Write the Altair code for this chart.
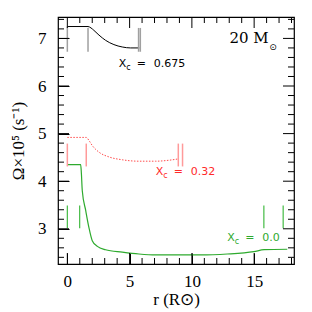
import altair as alt
import pandas as pd

# ---- data ----
black_r = [0.0, 1.66, 1.9, 2.13, 2.54, 3.07, 3.74, 4.41, 5.08, 5.78]
black_v = [7.25, 7.25, 7.22, 7.17, 7.07, 6.96, 6.87, 6.82, 6.80, 6.80]

red_r = [0.0, 1.52, 1.75, 2.0, 2.54, 3.34, 4.41, 5.75, 7.09, 8.15, 8.96]
red_v = [4.92, 4.92, 4.85, 4.75, 4.61, 4.51, 4.45, 4.42, 4.42, 4.44, 4.47]

green_r = [0.0, 1.07, 1.12, 1.2, 1.47, 1.73, 2.0, 2.41, 3.07, 4.41, 5.75, 7.09,
           10.7, 12.84, 14.98, 15.8, 17.66]
green_v = [4.35, 4.35, 4.2, 3.80, 3.39, 3.03, 2.75, 2.63, 2.56, 2.51, 2.47, 2.45,
           2.45, 2.47, 2.52, 2.56, 2.57]

black_seg_r = [0.0, 1.66, 5.72, 5.86]
black_seg_v1 = [7.25, 7.22, 7.22, 7.22]
black_seg_v2 = [6.72, 6.72, 6.72, 6.72]

red_seg_r = [0.0, 1.52, 8.91, 9.25]
red_seg_v1 = [4.79, 4.79, 4.79, 4.79]
red_seg_v2 = [4.31, 4.31, 4.31, 4.31]

green_seg_r = [0.0, 0.99, 15.78, 17.33]
green_seg_v1 = [3.49, 3.49, 3.49, 3.49]
green_seg_v2 = [3.01, 3.01, 3.01, 3.01]

label_num = ["0.675", "0.32", "0.0"]
label_r = [4.12, 7.09, 12.84]
label_v = [6.46, 4.19, 2.80]

mass_text = ["20  M"]
mass_r = [16.16]
mass_v = [7.0]
sun_r = [16.52]
sun_v = [6.82]

x_major = [0, 5, 10, 15]
x_minor = [i for i in range(0, 19) if i % 5 != 0]
y_major = [3, 4, 5, 6, 7]
y_minor = [round(2.4 + 0.2 * i, 1) for i in range(26) if (2 + i) % 5 != 0]

# ---- styles ----
BLACK = "#000000"
GRAY = "#a0a0a0"
RED_LINE = "#ff4d4d"
RED_SEG = "#ff9a9a"
RED_TXT = "#ff2a2a"
GREEN = "#2eaa2e"
GREEN_SEG = "#44bb44"

W, H = 236, 247
MAJ, MIN = 11, 6
xs = alt.Scale(domain=[-0.75, 18.2], nice=False, zero=False)
ys = alt.Scale(domain=[2.26, 7.45], nice=False, zero=False)

SERIF = "Liberation Serif"
XT = "r  (R⊙)"
YT = "Ω×10⁵  (s⁻¹)"

x_axis = alt.Axis(orient="bottom", values=x_major, tickSize=MAJ, offset=-MAJ,
                  domain=False, grid=False, tickColor="black",
                  labelFont=SERIF, labelFontSize=17, labelColor="black",
                  labelPadding=9, labelFlush=False,
                  titleFont=SERIF, titleFontSize=17, titleFontWeight="normal",
                  titleColor="black", titlePadding=2)
y_axis = alt.Axis(orient="left", values=y_major, tickSize=MAJ, offset=-MAJ,
                  domain=False, grid=False, tickColor="black",
                  labelFont=SERIF, labelFontSize=17, labelColor="black",
                  labelPadding=12, labelFlush=False,
                  titleFont=SERIF, titleFontSize=17, titleFontWeight="normal",
                  titleColor="black", titlePadding=10)

def X(field="r"):
    return alt.X(f"{field}:Q", scale=xs, axis=x_axis, title=XT)

def Y(field="v"):
    return alt.Y(f"{field}:Q", scale=ys, axis=y_axis, title=YT)

df_black = pd.DataFrame({"r": black_r, "v": black_v})
df_red = pd.DataFrame({"r": red_r, "v": red_v})
df_green = pd.DataFrame({"r": green_r, "v": green_v})

black_line = alt.Chart(df_black).mark_line(color=BLACK, strokeWidth=1, interpolate="monotone").encode(
    x=X(), y=Y())
red_line = alt.Chart(df_red).mark_line(color=RED_LINE, strokeWidth=1, strokeDash=[1.5, 1.5],
                                       interpolate="monotone").encode(x=X(), y=Y())
green_line = alt.Chart(df_green).mark_line(color=GREEN, strokeWidth=1.2,
                                           interpolate="monotone").encode(x=X(), y=Y())

def segs(r, v1, v2, color, width):
    df = pd.DataFrame({"r": r, "v": v1, "v2": v2})
    return alt.Chart(df).mark_rule(color=color, strokeWidth=width).encode(
        x=X(), y=Y(), y2="v2:Q")

seg_black = segs(black_seg_r, black_seg_v1, black_seg_v2, GRAY, 1.5)
seg_red = segs(red_seg_r, red_seg_v1, red_seg_v2, RED_SEG, 1.5)
seg_green = segs(green_seg_r, green_seg_v1, green_seg_v2, GREEN_SEG, 1.2)

# inward tick marks on all four sides, placed through the scales
def xticks(vals, y0, y1):
    return alt.Chart(pd.DataFrame({"r": vals})).mark_rule(color="black", strokeWidth=1).encode(
        x=X(), y=alt.value(y0), y2=alt.value(y1))

def yticks(vals, x0, x1):
    return alt.Chart(pd.DataFrame({"v": vals})).mark_rule(color="black", strokeWidth=1).encode(
        y=Y(), x=alt.value(x0), x2=alt.value(x1))

tick_layers = [
    xticks(x_major, H, H - MAJ), xticks(x_minor, H, H - MIN),
    xticks(x_major, 0, MAJ), xticks(x_minor, 0, MIN),
    yticks(y_major, 0, MAJ), yticks(y_minor, 0, MIN),
    yticks(y_major, W, W - MAJ), yticks(y_minor, W, W - MIN),
]

df_lab = pd.DataFrame({"num": label_num, "r": label_r, "v": label_v})
col = alt.Color("num:N", scale=alt.Scale(domain=label_num, range=[BLACK, RED_TXT, GREEN]), legend=None)

def lab(text_kw, **mk):
    base = alt.Chart(df_lab).mark_text(align="left", baseline="middle", font="DejaVu Sans", **mk)
    enc = dict(x=X(), y=Y(), color=col)
    enc.update(text_kw)
    return base.encode(**enc)

lab_X = lab({"text": alt.value("X")}, fontSize=11)
lab_c = lab({"text": alt.value("c")}, fontSize=8, dx=7.5, dy=3.5)
lab_eq = lab({"text": alt.value("=")}, fontSize=11, dx=18)
lab_num = lab({"text": "num:N"}, fontSize=11, dx=35)

df_mass = pd.DataFrame({"t": mass_text, "r": mass_r, "v": mass_v})
mass = alt.Chart(df_mass).mark_text(align="right", baseline="middle", font="DejaVu Serif",
                                    fontSize=15, color="black").encode(
    x=X(), y=Y(), text="t:N")
df_sun = pd.DataFrame({"r": sun_r, "v": sun_v})
sun = alt.Chart(df_sun).mark_text(align="center", baseline="middle", font="DejaVu Sans",
                                  fontSize=9, color="black", text="⊙").encode(x=X(), y=Y())

chart = alt.layer(
    black_line, red_line, green_line, seg_black, seg_red, seg_green,
    *tick_layers,
    lab_X, lab_c, lab_eq, lab_num, mass, sun,
).properties(
    width=W, height=H,
    autosize=alt.AutoSizeParams(type="none"),
    padding={"left": 50, "top": 9, "right": 10, "bottom": 50},
    background="white",
).configure_view(stroke="black", strokeWidth=1.2)

chart.save("out.html", embed_options={"renderer": "svg", "actions": False})
